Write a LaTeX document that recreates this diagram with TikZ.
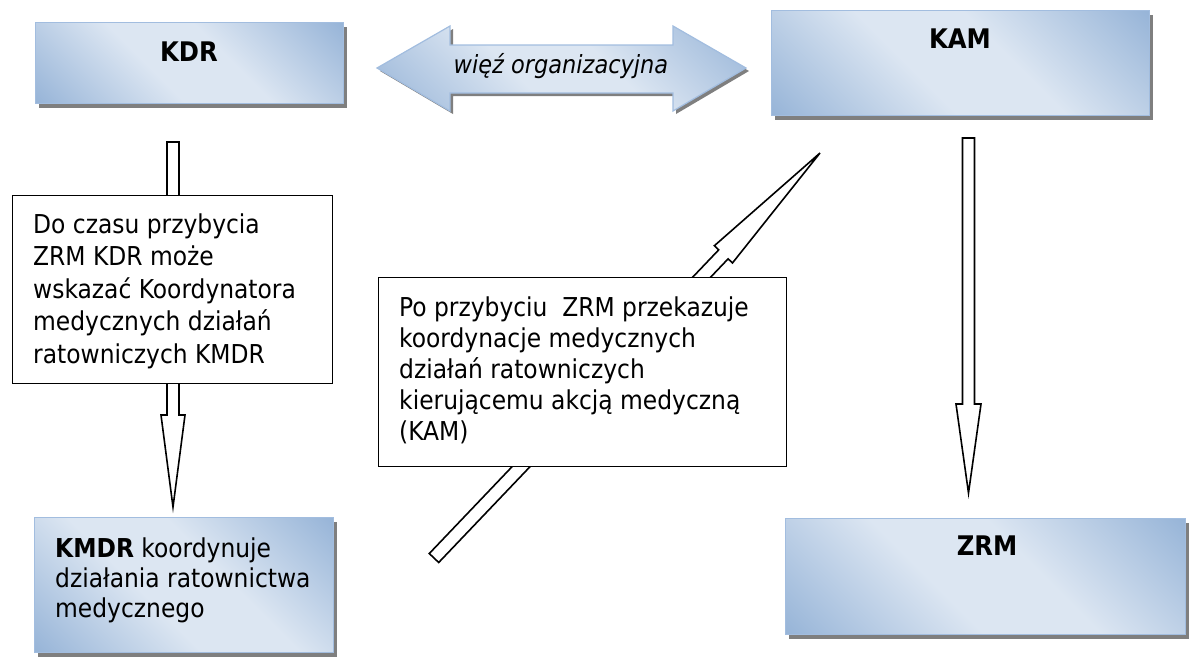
\documentclass[tikz,border=0pt]{standalone}
\usepackage{fontspec}
\setmainfont{DejaVu Sans Condensed}
\usetikzlibrary{calc}
\definecolor{dk}{HTML}{95B3D7}
\definecolor{lt}{HTML}{DCE6F2}
\definecolor{bord}{HTML}{A2BDDF}
\definecolor{shadowc}{HTML}{7F7F7F}
\pgfdeclarehorizontalshading{wordblue}{100bp}{color(0bp)=(dk); color(14bp)=(dk); color(42bp)=(lt); color(58bp)=(lt); color(86bp)=(dk); color(100bp)=(dk)}
\tikzset{
  tbox/.style={draw=bord, line width=1.2pt, shading=wordblue, shading angle=45},
  tshadow/.style={fill=shadowc, draw=none},
  textbox/.style={draw=black, line width=1.4pt, fill=white},
  blockarr/.style={draw=black, line width=1.6pt, fill=white, line join=miter},
  title/.style={font=\fontsize{27}{32}\selectfont\bfseries, inner sep=0pt, anchor=base},
  body/.style={inner sep=0pt, anchor=base west},
}
\newcommand\blockarrow[5]{%
  \coordinate (ba-s) at ($(#2)!#5!(#1)$);
  \draw[blockarr] ($(#1)!#3!90:(#2)$) -- ($(ba-s)!#3!90:(#2)$) -- ($(ba-s)!#4!90:(#2)$) -- (#2)
    -- ($(ba-s)!#4!-90:(#2)$) -- ($(ba-s)!#3!-90:(#2)$) -- ($(#1)!#3!-90:(#2)$) -- cycle;
}
\begin{document}
\begin{tikzpicture}[x=1pt, y=-1pt]
\useasboundingbox (0,0) rectangle (1189,657);

% arrow end points
\coordinate (la-tail) at (173,142);
\coordinate (la-tip) at (173,507);
\coordinate (ra-tail) at (968.5,138);
\coordinate (ra-tip) at (968.5,493);
\coordinate (da-tail) at (434,558);
\coordinate (da-tip) at (820,153);

\blockarrow{la-tail}{la-tip}{6pt}{12pt}{92pt}
\blockarrow{ra-tail}{ra-tip}{6pt}{12.5pt}{89pt}
\blockarrow{da-tail}{da-tip}{6.5pt}{12.5pt}{140pt}

% white text boxes
\node[textbox, anchor=north west, minimum width=320pt, minimum height=188pt, inner sep=0pt] (lbox) at (12,195) {};
\node[textbox, anchor=north west, minimum width=408pt, minimum height=189pt, inner sep=0pt] (mbox) at (378,277) {};

% shaded boxes with shadows
\foreach \nm/\x/\y/\w/\h in {kdr/35/22/308/81, kam/771/10/378/105, kmdr/34/517/299/135, zrm/785/518/400/116}{
  \fill[tshadow] (\x+4,\y+5) rectangle (\x+\w+4,\y+\h+5);
  \node[tbox, anchor=north west, minimum width=\w pt, minimum height=\h pt, inner sep=0pt] (\nm) at (\x,\y) {};
}

% double arrow
\fill[tshadow] (380,71) -- (453,29) -- (453,48) -- (676,48) -- (676,29) -- (749,71) -- (676,114) -- (676,96) -- (453,96) -- (453,114) -- cycle;
\path[tbox] (377,68) -- (450,26) -- (450,45) -- (673,45) -- (673,26) -- (746,68) -- (673,111) -- (673,93) -- (450,93) -- (450,111) -- cycle;
\node[font=\fontsize{25}{29}\selectfont\itshape, inner sep=0pt, anchor=base] (wiez) at (561,73) {więź organizacyjna};

% titles
\node[title] (kdrt) at (189,61) {KDR};
\node[title] (kamt) at (960,48) {KAM};
\node[title] (zrmt) at (987,555) {ZRM};

% body texts
\node[body, font=\fontsize{26}{32.5}\selectfont] (ltext) at (33,233) {\begin{tabular}[t]{@{}l@{}}Do czasu przybycia\\ ZRM KDR może\\ wskazać Koordynatora\\ medycznych działań\\ ratowniczych KMDR\end{tabular}};
\node[body, font=\fontsize{26}{31}\selectfont] (mtext) at (399,316) {\begin{tabular}[t]{@{}l@{}}Po przybyciu\ \ ZRM przekazuje\\ koordynacje medycznych\\ działań ratowniczych\\ kierującemu akcją medyczną\\ (KAM)\end{tabular}};
\node[body, font=\fontsize{26}{30}\selectfont] (ktext) at (55,557) {\begin{tabular}[t]{@{}l@{}}\textbf{KMDR} koordynuje\\ działania ratownictwa\\ medycznego\end{tabular}};
\end{tikzpicture}
\end{document}
